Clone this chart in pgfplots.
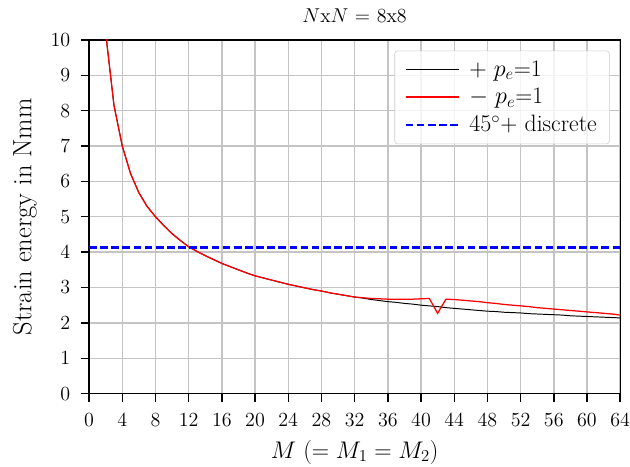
\documentclass[border={6pt 0pt 0pt 2.7pt}]{standalone}
\usepackage{pgfplots}
\pgfplotsset{compat=1.18}

% strain energy vs M, N x N = 8x8
\pgfplotstableread{
M    plus   minus
2    10.20  10.20
3    8.15   8.15
4    7.00   7.00
5    6.22   6.22
6    5.68   5.68
7    5.29   5.29
8    5.00   5.00
9    4.75   4.75
10   4.52   4.52
11   4.33   4.33
12   4.15   4.15
13   4.02   4.02
14   3.90   3.90
15   3.79   3.79
16   3.68   3.68
17   3.59   3.59
18   3.50   3.50
19   3.41   3.41
20   3.33   3.33
21   3.27   3.27
22   3.21   3.21
23   3.15   3.15
24   3.09   3.09
25   3.04   3.04
26   2.99   2.99
27   2.94   2.94
28   2.90   2.90
29   2.85   2.85
30   2.81   2.81
31   2.77   2.77
32   2.73   2.73
33   2.70   2.71
34   2.66   2.69
35   2.63   2.68
36   2.60   2.67
37   2.58   2.67
38   2.55   2.67
39   2.53   2.67
40   2.50   2.68
41   2.48   2.69
42   2.46   2.27
43   2.43   2.67
44   2.41   2.66
45   2.39   2.64
46   2.37   2.62
47   2.35   2.60
48   2.33   2.57
49   2.32   2.55
50   2.30   2.52
51   2.29   2.50
52   2.28   2.48
53   2.26   2.46
54   2.25   2.43
55   2.24   2.41
56   2.23   2.39
57   2.22   2.37
58   2.20   2.35
59   2.19   2.33
60   2.18   2.31
61   2.17   2.29
62   2.16   2.27
63   2.15   2.25
64   2.14   2.22
}\energy

\begin{document}
\begin{tikzpicture}
  \begin{axis}[
      scale only axis,
      width=381.5pt, height=254pt,
      xmin=0, xmax=64,
      ymin=0, ymax=10,
      xtick={0,4,...,64},
      ytick={0,1,...,10},
      xtick pos=bottom, ytick pos=left,
      tick align=outside,
      major tick length=6pt,
      every tick/.style={black, line width=1pt},
      axis line style={line width=0.9pt},
      grid=major,
      grid style={black!23, line width=1pt},
      tick label style={font=\fontsize{14.4}{17}\selectfont},
      xticklabel style={inner xsep=0pt},
      xticklabel shift=4.5pt,
      yticklabel shift=4pt,
      xlabel style={font=\fontsize{17.5}{21}\selectfont,
        inner ysep=2pt, yshift=-4.5pt},
      ylabel style={font=\fontsize{19}{22}\selectfont, yshift=3pt},
      title style={font=\fontsize{14.4}{17}\selectfont, yshift=3pt},
      title={$N$x$N$ = 8x8},
      xlabel={$M$ $(=M_1=M_2)$},
      ylabel={Strain energy in Nmm},
      legend cell align=left,
      legend style={at={(0.98,0.97)}, anchor=north east,
        draw=black!20, rounded corners=2pt,
        fill=white, fill opacity=0.8, text opacity=1,
        font=\fontsize{17}{20}\selectfont,
        row sep=3pt, inner xsep=7pt, inner ysep=5pt,
        /tikz/every odd column/.append style={column sep=5pt}},
      legend image code/.code={\draw[#1] (0pt,0pt) -- (38pt,0pt);},
    ]
    \addplot[black, line width=0.7pt] table[x=M, y=plus] {\energy};
    \addplot[red, line width=0.9pt] table[x=M, y=minus] {\energy};
    \addplot[blue, line width=1.6pt, dash pattern=on 5.5pt off 2.5pt]
      coordinates {(0,4.13) (64,4.13)};
    \legend{$+$ $p_e$=1, $-$ $p_e$=1, $45^{\circ}$+ discrete}
  \end{axis}
\end{tikzpicture}
\end{document}
